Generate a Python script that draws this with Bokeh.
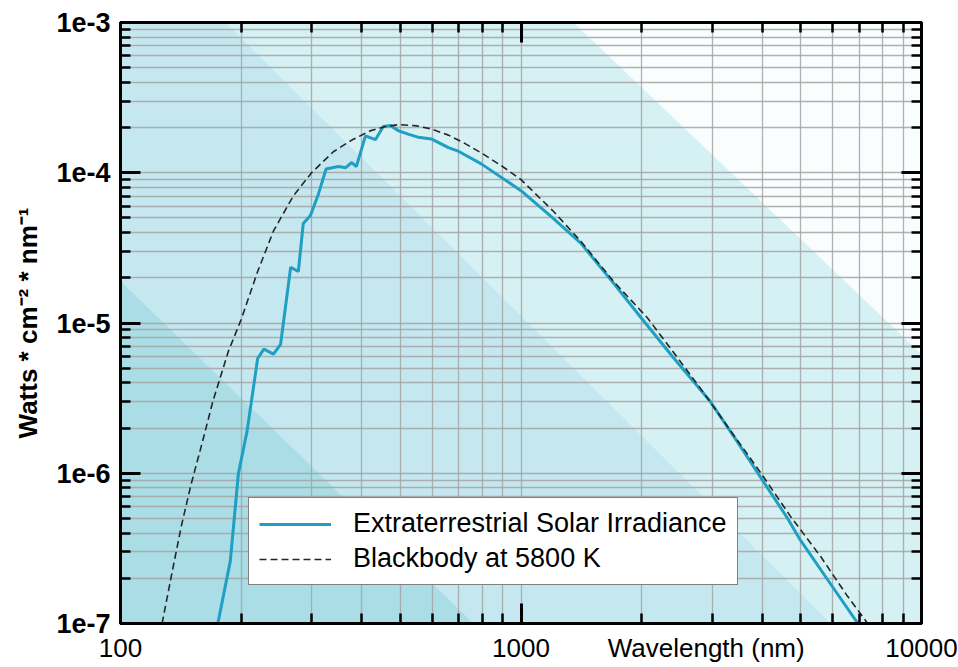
import numpy as np
from bokeh.plotting import figure
from bokeh.models import (FixedTicker, CustomJSTickFormatter, LogAxis, Legend,
                          LegendItem, Range1d)
from bokeh.embed import file_html
from bokeh.resources import INLINE

# ---------------- data ----------------
solar_wl = [175, 188, 197, 207, 220, 228, 241, 251, 266, 278, 286, 298, 312, 326,
            350, 365, 378, 388, 409, 433, 453, 472, 495, 525, 555, 597, 659, 694,
            794, 1000, 1200, 1410, 1700, 1985, 2400, 2970, 3480, 3975, 4633, 4980,
            6000, 6940]
solar_irr = [1.0e-7, 2.6e-7, 1.0e-6, 1.9e-6, 5.8e-6, 6.7e-6, 6.2e-6, 7.2e-6, 2.35e-5,
             2.2e-5, 4.6e-5, 5.2e-5, 7.2e-5, 1.06e-4, 1.1e-4, 1.08e-4, 1.17e-4, 1.1e-4,
             1.76e-4, 1.66e-4, 2.03e-4, 2.06e-4, 1.9e-4, 1.8e-4, 1.72e-4, 1.68e-4,
             1.47e-4, 1.4e-4, 1.15e-4, 7.6e-5, 5.0e-5, 3.4e-5, 1.85e-5, 1.1e-5, 5.9e-6,
             3.0e-6, 1.6e-6, 9.3e-7, 5.0e-7, 3.6e-7, 1.75e-7, 1.0e-7]

bb_wl = [127, 135, 142, 150, 160, 170, 186, 200, 220, 241, 270, 300, 340, 378, 420,
         459, 495, 550, 595, 659, 720, 794, 900, 1000, 1200, 1410, 1700, 2070, 2360,
         2800, 3300, 3975, 4700, 5595, 6500, 7340]
bb_irr = [1.0e-7, 2.3e-7, 4.5e-7, 8.4e-7, 1.6e-6, 3.0e-6, 6.5e-6, 1.05e-5, 2.2e-5,
          4.1e-5, 7.0e-5, 1.0e-4, 1.38e-4, 1.65e-4, 1.9e-4, 2.03e-4, 2.09e-4, 2.05e-4,
          1.96e-4, 1.78e-4, 1.58e-4, 1.36e-4, 1.1e-4, 9.0e-5, 5.6e-5, 3.5e-5, 1.9e-5,
          1.08e-5, 6.8e-6, 3.7e-6, 2.0e-6, 1.0e-6, 5.2e-7, 2.8e-7, 1.55e-7, 1.0e-7]

x_decades = [100, 1000, 10000]
x_tick_labels = ["100", "1000", "10000"]
x_title = "Wavelength (nm)"
x_title_at = 2900          # wavelength under which the x title sits (between 1000 and 10000)
y_decades = [1e-7, 1e-6, 1e-5, 1e-4, 1e-3]
y_tick_labels = ["1e-7", "1e-6", "1e-5", "1e-4", "1e-3"]
y_title = "Watts * cm\u207b\u00b2 * nm\u207b\u00b9"

series_labels = ["Extraterrestrial Solar Irradiance", "Blackbody at 5800 K"]

# decorative diagonal background bands: each edge given by two (wavelength, value) points
band_edges = [
    [(1352, 1e-3), (10000, 6.2e-6)],   # light cyan below this edge
    [(183, 1e-3), (5930, 1e-7)],       # medium blue below this edge
    [(100, 1.9e-5), (761, 1e-7)],      # teal below this edge
]
band_colors = ["#d6f1f4", "#c5e8f0", "#aadde6"]
plot_bg = "#f9fdfd"

FONT = "Liberation Sans"
SOLAR_COLOR = "#1e9fc3"

# ---------------- figure ----------------
p = figure(x_axis_type="log", y_axis_type="log",
           x_range=Range1d(100, 10000), y_range=Range1d(1e-7, 1e-3),
           frame_width=801, frame_height=601,
           min_border_left=120, min_border_right=37, min_border_top=22,
           min_border_bottom=38,
           output_backend="svg", toolbar_location=None,
           background_fill_color=plot_bg, border_fill_color="white")

bottom_ax = p.below[0]
left_ax = p.left[0]

# background bands
for (pa, pb), col in zip(band_edges, band_colors):
    lx = np.log10([pa[0], pb[0]])
    ly = np.log10([pa[1], pb[1]])
    slope = (ly[1] - ly[0]) / (lx[1] - lx[0])
    x0, x1 = 30.0, 30000.0
    y0 = 10 ** (ly[0] + slope * (np.log10(x0) - lx[0]))
    y1 = 10 ** (ly[0] + slope * (np.log10(x1) - lx[0]))
    r = p.patch([x0, x1, x1, x0], [y0, y1, 1e-12, 1e-12], fill_color=col,
                line_color=None)
    r.level = "image"

# tickers
x_minor = [m * d for d in x_decades[:-1] for m in range(2, 10)]
y_minor = [m * d for d in y_decades[:-1] for m in range(2, 10)]
xt = FixedTicker(ticks=x_decades, minor_ticks=x_minor)
yt = FixedTicker(ticks=y_decades, minor_ticks=y_minor)

fmt_code = """
for (let i = 0; i < tv.length; i++) {
  if (Math.abs(Math.log10(tick) - Math.log10(tv[i])) < 1e-6) { return tl[i]; }
}
return "";
"""
empty_fmt = CustomJSTickFormatter(code="return '';")
yfmt = CustomJSTickFormatter(args=dict(tv=y_decades, tl=y_tick_labels), code=fmt_code)

bottom_ax.ticker = xt
bottom_ax.formatter = empty_fmt
left_ax.ticker = yt
left_ax.formatter = yfmt
p.xgrid.ticker = xt
p.ygrid.ticker = yt

for g in (p.xgrid, p.ygrid):
    g.grid_line_color = "#a3a3a3"
    g.grid_line_width = 1.3
    g.minor_grid_line_color = "#a3a3a3"
    g.minor_grid_line_width = 1.3
    g.grid_line_alpha = 0.85
    g.minor_grid_line_alpha = 0.85

# mirrored axes (ticks only)
top_ax = LogAxis(ticker=xt, formatter=CustomJSTickFormatter(code="return '';"))
right_ax = LogAxis(ticker=yt, formatter=CustomJSTickFormatter(code="return '';"))
p.add_layout(top_ax, "above")
p.add_layout(right_ax, "right")

for ax in [bottom_ax, left_ax, top_ax, right_ax]:
    ax.axis_line_width = 3
    ax.axis_line_color = "black"
    ax.major_tick_line_width = 3
    ax.minor_tick_line_width = 2.5
    ax.major_tick_line_color = "black"
    ax.minor_tick_line_color = "black"
    ax.major_tick_out = 0
    ax.minor_tick_out = 0
    ax.major_tick_in = 20
    ax.minor_tick_in = 10

for ax in [top_ax, right_ax, bottom_ax]:
    ax.major_label_standoff = 0
    ax.major_label_text_font_size = "1px"

# label-only bottom axis: decade labels plus the x title in the same row
lab_ticks = sorted(x_decades + [x_title_at])
lab_text = [x_title if t == x_title_at else x_tick_labels[x_decades.index(t)] for t in lab_ticks]
label_ax = LogAxis(ticker=FixedTicker(ticks=lab_ticks, minor_ticks=[]),
                   formatter=CustomJSTickFormatter(args=dict(tv=lab_ticks, tl=lab_text),
                                                   code=fmt_code),
                   axis_line_color=None, major_tick_line_color=None,
                   minor_tick_line_color=None, major_tick_in=0, major_tick_out=0,
                   minor_tick_in=0, minor_tick_out=0,
                   major_label_standoff=9,
                   major_label_text_font=FONT, major_label_text_font_size="26px",
                   major_label_text_color="black")
p.add_layout(label_ax, "below")

left_ax.major_label_text_font = FONT
left_ax.major_label_text_font_size = "27px"
left_ax.major_label_text_font_style = "bold"
left_ax.major_label_text_color = "black"
left_ax.major_label_standoff = 10
left_ax.axis_label = y_title
left_ax.axis_label_text_font = FONT
left_ax.axis_label_text_font_size = "26px"
left_ax.axis_label_text_font_style = "bold"
left_ax.axis_label_text_color = "black"
left_ax.axis_label_standoff = 10

p.outline_line_color = "black"
p.outline_line_width = 3

# curves
r_solar = p.line(solar_wl, solar_irr, line_color=SOLAR_COLOR, line_width=3)
r_bb = p.line(bb_wl, bb_irr, line_color="#262626", line_width=1.6, line_dash="7 4")

legend = Legend(items=[LegendItem(label=series_labels[0], renderers=[r_solar]),
                       LegendItem(label=series_labels[1], renderers=[r_bb])],
                location=(128, 38), orientation="vertical",
                label_text_font=FONT, label_text_font_size="27px",
                label_text_color="black",
                glyph_width=72, glyph_height=28, label_height=28,
                label_standoff=22, padding=10, spacing=4, margin=0,
                border_line_color="black", border_line_width=1.5,
                background_fill_color="white", background_fill_alpha=1.0)
p.add_layout(legend)

open("out.html", "w").write(file_html(p, INLINE))
